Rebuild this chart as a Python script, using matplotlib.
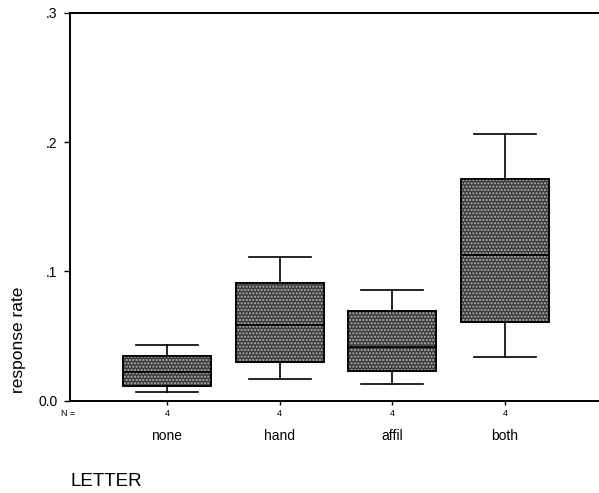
import matplotlib
matplotlib.use("Agg")
import matplotlib.pyplot as plt
from matplotlib.patches import Rectangle

plt.rcParams['font.family'] = ['Liberation Sans', 'DejaVu Sans']

categories = ["none", "hand", "affil", "both"]
counts = [4, 4, 4, 4]
whisker_low = [0.0066, 0.0166, 0.0125, 0.0337]
q1 = [0.0112, 0.0300, 0.0231, 0.0605]
median = [0.0223, 0.0584, 0.0416, 0.1126]
q3 = [0.0344, 0.0912, 0.0690, 0.1712]
whisker_high = [0.0430, 0.1113, 0.0858, 0.2063]
yticks = [0.0, 0.1, 0.2, 0.3]
ytick_labels = ["0.0", ".1", ".2", ".3"]

fig = plt.figure(figsize=(5.99, 4.93), dpi=100)
ax = fig.add_axes([70/599, 1-400.5/493, 1-70/599, (400.5-13)/493])

stats = []
for i, c in enumerate(categories):
    stats.append(dict(label=c, whislo=whisker_low[i], q1=q1[i], med=median[i],
                      q3=q3[i], whishi=whisker_high[i], fliers=[]))
positions = list(range(1, len(categories)+1))
bp = ax.bxp(stats, positions=positions, widths=0.78, patch_artist=True,
            showfliers=False,
            boxprops=dict(facecolor='#3c3c3c', edgecolor='black', linewidth=1.2),
            medianprops=dict(color='black', linewidth=1.2),
            whiskerprops=dict(color='black', linewidth=1.2),
            capprops=dict(color='black', linewidth=1.2), capwidths=0.55)

# stipple texture over each box
plt.rcParams['hatch.linewidth'] = 1.0
for i, p in enumerate(positions):
    r = Rectangle((p-0.39, q1[i]), 0.78, q3[i]-q1[i], facecolor='none',
                  edgecolor='#b4b4b4', hatch='.....', linewidth=0, zorder=2.5)
    ax.add_patch(r)
    ax.plot([p-0.39, p+0.39], [median[i], median[i]], color='black', lw=1.2, zorder=3)
    ax.add_patch(Rectangle((p-0.39, q1[i]), 0.78, q3[i]-q1[i], facecolor='none',
                           edgecolor='black', linewidth=1.2, zorder=3))

ax.set_xlim(0.139, 4.834)
ax.set_ylim(0, 0.3)
ax.set_yticks(yticks)
ax.set_yticklabels(ytick_labels, fontsize=10)
ax.set_xticks(positions)
ax.set_xticklabels([str(n) for n in counts], fontsize=6.5)
ax.tick_params(axis='y', direction='out', length=4, width=1, pad=5)
ax.tick_params(axis='x', direction='out', length=3, width=1, pad=3)
for s in ['left', 'bottom', 'top']:
    ax.spines[s].set_linewidth(1.4)
ax.spines['right'].set_visible(False)

ax.set_ylabel("response rate", fontsize=12.5)
ax.yaxis.set_label_coords(-0.083, 0.156)

fig.text(61/599, 1-413/493, "N =", fontsize=6.5, ha='left', va='center')
for i, c in enumerate(categories):
    xd = ax.transData.transform((positions[i], 0))[0]
    fig.text(xd/599, 1-436/493, c, fontsize=10, ha='center', va='center')
fig.text(70/599, 1-482/493, "LETTER", fontsize=13.5, ha='left', va='center')

fig.savefig("out.png", dpi=100)
